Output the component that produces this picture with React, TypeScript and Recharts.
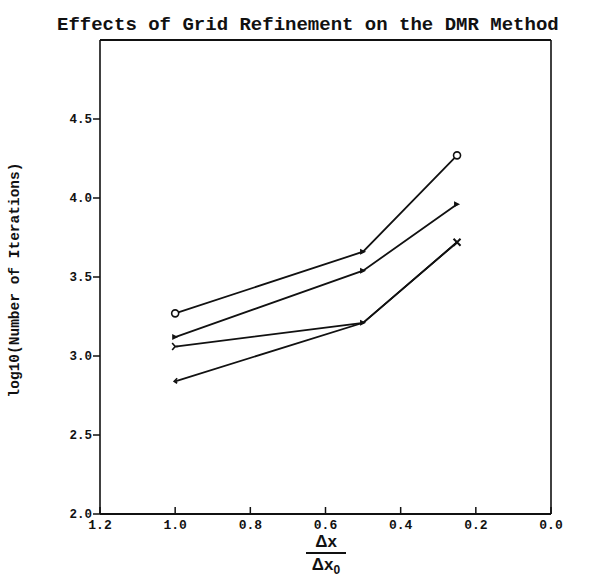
import React from "react";
import { LineChart, Line, XAxis, YAxis, ReferenceLine } from "recharts";

// grid refinement ratio (dx / dx0) and log10 of iteration counts
const xRatio = [1.0, 0.5, 0.25];
const seriesA = [3.27, 3.66, 4.27];
const seriesB = [3.12, 3.54, 3.96];
const seriesC = [3.06, 3.21, 3.72];
const seriesD = [2.84, 3.21, 3.72];
const xTicks = [1.2, 1.0, 0.8, 0.6, 0.4, 0.2, 0.0];
const yTicks = [2.0, 2.5, 3.0, 3.5, 4.0, 4.5];

const data = xRatio.map((dx, i) => ({
  dx,
  a: seriesA[i],
  b: seriesB[i],
  c: seriesC[i],
  d: seriesD[i],
}));

const MONO = "'Liberation Mono', 'DejaVu Sans Mono', monospace";
const INK = "#111";

function Tri({ cx, cy }: { cx: number; cy: number }) {
  return <path d={`M${cx + 3},${cy} L${cx - 3},${cy - 3} L${cx - 3},${cy + 3} Z`} fill={INK} />;
}

function dotA(p: any) {
  const { cx, cy, index } = p;
  if (index === 1) return <Tri key={`a${index}`} cx={cx} cy={cy} />;
  return <circle key={`a${index}`} cx={cx} cy={cy} r={3.5} fill="#fff" stroke={INK} strokeWidth={1.6} />;
}

function dotB(p: any) {
  const { cx, cy, index } = p;
  return <Tri key={`b${index}`} cx={cx} cy={cy} />;
}

function dotC(p: any) {
  const { cx, cy, index } = p;
  if (index === 2)
    return (
      <path
        key={`c${index}`}
        d={`M${cx - 3.5},${cy - 3.5} L${cx + 3.5},${cy + 3.5} M${cx + 3.5},${cy - 3.5} L${cx - 3.5},${cy + 3.5}`}
        stroke={INK}
        strokeWidth={2}
      />
    );
  if (index === 0)
    return (
      <path
        key={`c${index}`}
        d={`M${cx - 3},${cy - 3.5} L${cx},${cy} L${cx - 3},${cy + 3.5} M${cx},${cy} L${cx + 3},${cy}`}
        stroke={INK}
        strokeWidth={1.6}
        fill="none"
      />
    );
  return <Tri key={`c${index}`} cx={cx} cy={cy} />;
}

function dotD(p: any) {
  const { cx, cy, index } = p;
  if (index !== 0) return <g key={`d${index}`} />;
  return <path key={`d${index}`} d={`M${cx + 2},${cy - 3} L${cx - 1},${cy} L${cx + 2},${cy + 2}`} stroke={INK} strokeWidth={1.6} fill="none" />;
}

function XTick(p: any) {
  const { x, y, payload } = p;
  return (
    <g>
      <line x1={x} x2={x} y1={y} y2={y - 7} stroke={INK} strokeWidth={1.5} />
      <text x={x} y={y + 15} textAnchor="middle" fontFamily={MONO} fontWeight="bold" fontSize={13} fill={INK}>
        {Number(payload.value).toFixed(1)}
      </text>
    </g>
  );
}

function RightTick(p: any) {
  const { x, y } = p;
  return <line x1={x} x2={x - 7} y1={y} y2={y} stroke={INK} strokeWidth={1.8} />;
}

export default function App() {
  return (
    <div style={{ position: "absolute", left: 0, top: 0, width: 598, height: 585, background: "#fff" }}>
      <div
        style={{
          position: "absolute",
          left: 57,
          top: 16,
          fontFamily: MONO,
          fontSize: 19,
          fontWeight: "bold",
          lineHeight: "19px",
          color: INK,
          whiteSpace: "nowrap",
        }}
      >
        Effects of Grid Refinement on the DMR Method
      </div>

      <LineChart width={598} height={585} data={data} margin={{ top: 40, right: 46, bottom: 41, left: 40 }}>
        <XAxis
          dataKey="dx"
          type="number"
          domain={[0, 1.2]}
          ticks={xTicks}
          reversed
          height={30}
          tickSize={0}
          tickMargin={0}
          tickLine={false}
          axisLine={{ stroke: INK, strokeWidth: 2 }}
          tick={XTick}
          interval={0}
        />
        <YAxis
          yAxisId="l"
          domain={[2, 5]}
          ticks={yTicks}
          width={60}
          tickSize={7}
          tickMargin={1}
          axisLine={{ stroke: INK, strokeWidth: 1.6 }}
          tickLine={{ stroke: INK, strokeWidth: 1.5 }}
          tick={{ fill: INK, fontFamily: MONO, fontWeight: "bold", fontSize: 12.5 }}
          tickFormatter={(v: number) => v.toFixed(1)}
          interval={0}
        />
        <YAxis
          yAxisId="r"
          orientation="right"
          domain={[2, 5]}
          ticks={yTicks}
          width={1}
          tickSize={0}
          tickMargin={0}
          tickLine={false}
          axisLine={{ stroke: INK, strokeWidth: 1.6 }}
          tick={RightTick}
          interval={0}
        />
        <ReferenceLine yAxisId="l" y={5} stroke={INK} strokeWidth={2.2} />
        <Line yAxisId="l" dataKey="a" stroke={INK} strokeWidth={1.8} dot={dotA} isAnimationActive={false} />
        <Line yAxisId="l" dataKey="b" stroke={INK} strokeWidth={1.8} dot={dotB} isAnimationActive={false} />
        <Line yAxisId="l" dataKey="c" stroke={INK} strokeWidth={1.8} dot={dotC} isAnimationActive={false} />
        <Line yAxisId="l" dataKey="d" stroke={INK} strokeWidth={1.8} dot={dotD} isAnimationActive={false} />
      </LineChart>

      <div
        style={{
          position: "absolute",
          left: 0,
          top: 100,
          width: 30,
          height: 360,
          display: "flex",
          alignItems: "center",
          justifyContent: "center",
        }}
      >
        <div
          style={{
            transform: "rotate(-90deg)",
            whiteSpace: "nowrap",
            fontFamily: MONO,
            fontSize: 14.5,
            fontWeight: "bold",
            color: INK,
          }}
        >
          log10(Number of Iterations)
        </div>
      </div>

      <div
        style={{
          position: "absolute",
          left: 296,
          top: 532,
          width: 60,
          display: "flex",
          flexDirection: "column",
          alignItems: "center",
          fontFamily: "'Liberation Sans', Arial, sans-serif",
          fontWeight: "bold",
          fontSize: 17,
          color: INK,
          lineHeight: "19px",
        }}
      >
        <span>Δx</span>
        <span style={{ width: 40, borderTop: `2px solid ${INK}`, margin: "1px 0 1px" }} />
        <span>
          Δx<sub style={{ fontSize: 12 }}>0</sub>
        </span>
      </div>
    </div>
  );
}
